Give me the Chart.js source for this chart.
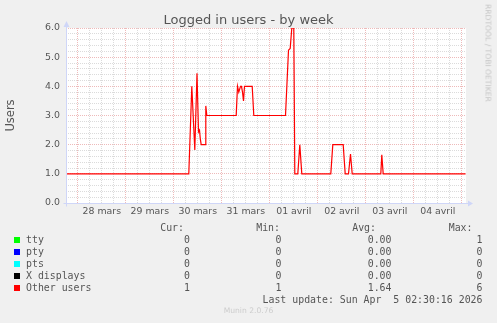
<!DOCTYPE html>
<html>
<head>
<meta charset="utf-8">
<title>Logged in users - by week</title>
<script src="https://cdn.jsdelivr.net/npm/chart.js@4"></script>
<style>
  html, body { margin: 0; padding: 0; background: #f0f0f0; }
  #wrap { position: relative; width: 497px; height: 323px; overflow: hidden;
          font-family: 'DejaVu Sans', sans-serif; color: #555; }
  #wrap canvas { position: absolute; left: 0; top: 0; }
  .t { position: absolute; white-space: pre; }
  .mono { font-family: 'DejaVu Sans Mono', monospace; font-size: 9.9px; line-height: 12px; }
  .r { text-align: right; }
  .sw { position: absolute; width: 6px; height: 6px; }
</style>
</head>
<body>
<div id="wrap">
  <canvas id="chart" width="497" height="323"></canvas>
  <div class="t" id="title" style="left:0;width:497px;text-align:center;top:13px;font-size:13px;line-height:13px;">Logged in users - by week</div>
  <div class="t" style="left:488px;top:53px;font-size:7.6px;color:#c4c4c4;transform:translate(-50%,-50%) rotate(90deg);">RRDTOOL / TOBI OETIKER</div>
  <div class="t" style="left:0;width:497px;text-align:center;top:306px;font-size:7.6px;color:#cdcdcd;">Munin 2.0.76</div>
  <div id="legend"></div>
</div>

<script>
// ── DATA ──────────────────────────────────────────────
// x = hours since 28 mars 00:00, y = logged in users
const hours = [-5.9, 55.5, 57.0, 58.5, 59.6, 60.35, 60.85, 61.25, 61.7, 63.85, 64.0, 64.5,
  79.2, 79.85, 80.5, 81.35, 81.85, 82.35, 82.85, 83.35, 87.2, 88.0,
  103.85, 105.35, 106.2, 107.0, 108.0, 108.5, 110.0, 111.0, 112.0,
  126.5, 127.5, 132.7, 133.7, 135.35, 136.35, 137.2, 151.5, 152.0, 152.7, 193.9];
const users = [1.0, 1.0, 4.0, 1.82, 4.45, 2.44, 2.5, 2.2, 2.0, 2.0, 3.33, 3.0,
  3.0, 4.0, 3.8, 4.0, 4.0, 3.8, 3.5, 4.0, 4.0, 3.0,
  3.0, 5.24, 5.3, 6.0, 6.0, 1.0, 1.0, 2.0, 1.0,
  1.0, 2.0, 2.0, 1.0, 1.0, 1.68, 1.0, 1.0, 1.65, 1.0, 1.0];

const dayLabels = ['28 mars', '29 mars', '30 mars', '31 mars', '01 avril', '02 avril', '03 avril', '04 avril'];
const yLabels = ['0.0', '1.0', '2.0', '3.0', '4.0', '5.0', '6.0'];

// legend table
const seriesNames = ['tty', 'pty', 'pts', 'X displays', 'Other users'];
const seriesColors = ['#00ff00', '#0000ff', '#00ffff', '#000000', '#ff0000'];
const curVals = ['0', '0', '0', '0', '1'];
const minVals = ['0', '0', '0', '0', '1'];
const avgVals = ['0.00', '0.00', '0.00', '0.00', '1.64'];
const maxVals = ['1', '0', '0', '0', '6'];
const lastUpdate = 'Last update: Sun Apr  5 02:30:16 2026';

// ── COLORS ────────────────────────────────────────────
const AXIS = '#cfd6f8';
const MAJOR = 'rgba(226, 140, 140, 0.6)';
const MINOR = 'rgba(190, 190, 190, 0.55)';
const FONT = { family: 'DejaVu Sans', size: 9.4 };

// ── LEGEND (html) ─────────────────────────────────────
function buildLegend() {
  const el = document.getElementById('legend');
  let html = '';
  const head = [['Cur:', 184], ['Min:', 280], ['Avg:', 376], ['Max:', 472.5]];
  head.forEach(([txt, right]) => {
    html += `<div class="t mono r" style="right:${497 - right}px;top:222.3px">${txt}</div>`;
  });
  seriesNames.forEach((name, i) => {
    const top = 234.1 + 12 * i;
    html += `<div class="sw" style="left:14px;top:${top + 3.2}px;background:${seriesColors[i]}"></div>`;
    html += `<div class="t mono" style="left:26px;top:${top}px">${name}</div>`;
    html += `<div class="t mono r" style="right:${497 - 190}px;top:${top}px">${curVals[i]}</div>`;
    html += `<div class="t mono r" style="right:${497 - 281.5}px;top:${top}px">${minVals[i]}</div>`;
    html += `<div class="t mono r" style="right:${497 - 391.5}px;top:${top}px">${avgVals[i]}</div>`;
    html += `<div class="t mono r" style="right:${497 - 482.5}px;top:${top}px">${maxVals[i]}</div>`;
  });
  html += `<div class="t mono r" style="right:${497 - 482.5}px;top:294px">${lastUpdate}</div>`;
  el.innerHTML = html;
}
buildLegend();

// ── PLUGINS ───────────────────────────────────────────
const canvasBg = {
  id: 'canvasBg',
  beforeDraw(chart) {
    const { ctx, chartArea: a } = chart;
    ctx.save();
    ctx.fillStyle = '#ffffff';
    ctx.fillRect(a.left, a.top, a.right - a.left, a.bottom - a.top);
    ctx.restore();
  }
};

// rrdtool style axes with arrows
const axesArrows = {
  id: 'axesArrows',
  afterDraw(chart) {
    const { ctx, chartArea: a } = chart;
    const x0 = Math.round(a.left) + 0.5;
    const y0 = Math.round(a.bottom) + 0.5;
    ctx.save();
    ctx.strokeStyle = AXIS;
    ctx.fillStyle = AXIS;
    ctx.lineWidth = 1;
    ctx.beginPath();
    ctx.moveTo(x0 - 3, y0); ctx.lineTo(a.right + 4, y0);
    ctx.moveTo(x0, y0 + 3); ctx.lineTo(x0, a.top - 4);
    ctx.stroke();
    ctx.beginPath();
    ctx.moveTo(a.right + 2, y0 - 3); ctx.lineTo(a.right + 7, y0); ctx.lineTo(a.right + 2, y0 + 3);
    ctx.closePath(); ctx.fill();
    ctx.beginPath();
    ctx.moveTo(x0 - 3, a.top - 1); ctx.lineTo(x0, a.top - 7); ctx.lineTo(x0 + 3, a.top - 1);
    ctx.closePath(); ctx.fill();
    ctx.restore();
  }
};

const isWhole = v => Math.abs(v - Math.round(v)) < 1e-6;

// ── CHART ─────────────────────────────────────────────
new Chart(document.getElementById('chart'), {
  type: 'line',
  data: {
    datasets: [{
      label: 'Other users',
      data: hours.map((h, i) => ({ x: h, y: users[i] })),
      borderColor: '#ff0000',
      borderWidth: 1.2,
      pointRadius: 0,
      tension: 0,
      fill: false
    }]
  },
  options: {
    responsive: false,
    animation: false,
    events: [],
    layout: { padding: { left: 0, top: 28, right: 31, bottom: 0 } },
    plugins: { legend: { display: false }, tooltip: { enabled: false } },
    scales: {
      x: {
        type: 'linear',
        min: -5.9,
        max: 194.1,
        afterFit: s => { s.height = 120; },
        afterBuildTicks: s => {
          const t = [];
          for (let h = 0; h <= 192; h += 6) t.push({ value: h });
          s.ticks = t;
        },
        ticks: {
          autoSkip: false,
          maxRotation: 0,
          padding: 3,
          color: '#555',
          font: FONT,
          callback: v => (((v % 24) + 24) % 24 === 12 ? dayLabels[(v - 12) / 24] : '')
        },
        grid: {
          drawTicks: false,
          lineWidth: 1,
          color: c => (c.tick && c.tick.value % 24 === 0 ? MAJOR : MINOR)
        },
        border: { display: false, dash: [1, 1] }
      },
      y: {
        min: 0,
        max: 6,
        afterFit: s => { s.width = 66; },
        afterBuildTicks: s => {
          const t = [];
          for (let k = 0; k <= 30; k++) t.push({ value: Math.round(k * 2) / 10 });
          s.ticks = t;
        },
        ticks: {
          autoSkip: false,
          padding: 6,
          color: '#555',
          font: FONT,
          callback: v => (isWhole(v) ? yLabels[Math.round(v)] : '')
        },
        grid: {
          drawTicks: false,
          lineWidth: 1,
          color: c => (c.tick && isWhole(c.tick.value) ? MAJOR : MINOR)
        },
        border: { display: false, dash: [1, 1] },
        title: {
          display: true,
          text: 'Users',
          color: '#555',
          font: { family: 'DejaVu Sans', size: 11.5 },
          padding: { top: 4, bottom: 0 }
        }
      }
    }
  },
  plugins: [canvasBg, axesArrows]
});
</script>
</body>
</html>
